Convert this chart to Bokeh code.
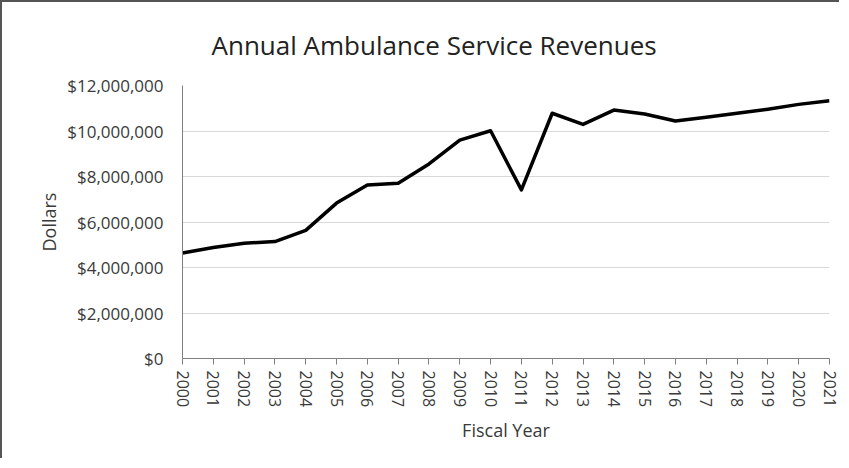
from bokeh.plotting import figure
from bokeh.models import FixedTicker, NumeralTickFormatter, Range1d
from bokeh.embed import file_html
from bokeh.resources import INLINE

years = [2000, 2001, 2002, 2003, 2004, 2005, 2006, 2007, 2008, 2009, 2010,
         2011, 2012, 2013, 2014, 2015, 2016, 2017, 2018, 2019, 2020, 2021]
revenues = [4640000, 4880000, 5070000, 5140000, 5630000, 6830000, 7630000,
            7700000, 8550000, 9600000, 10010000, 7410000, 10780000, 10290000,
            10920000, 10750000, 10440000, 10600000, 10780000, 10960000,
            11170000, 11330000]
y_ticks = [0, 2000000, 4000000, 6000000, 8000000, 10000000, 12000000]

FONT = "Open Sans"
TXT = "#3a3a3a"

p = figure(width=839, height=458, output_backend="svg", toolbar_location=None,
           x_range=Range1d(2000, 2021), y_range=Range1d(0, 12000000),
           min_border_left=180, min_border_right=12, min_border_top=83,
           min_border_bottom=102)

p.title.text = "Annual Ambulance Service Revenues"
p.title.text_font = FONT
p.title.text_font_size = "26px"
p.title.text_font_style = "normal"
p.title.text_color = "#222222"
p.title.text_line_height = 0.8
p.title.align = "left"
p.title.offset = 29
p.title.standoff = 45

p.line(years, revenues, line_color="black", line_width=3.5, line_join="round")

p.outline_line_color = None
p.xgrid.grid_line_color = None
p.ygrid.grid_line_color = "#d9d9d9"
p.ygrid.grid_line_width = 1

p.yaxis.ticker = FixedTicker(ticks=y_ticks)
p.yaxis.formatter = NumeralTickFormatter(format="$0,0")
p.yaxis.major_tick_out = 0
p.yaxis.major_tick_in = 0
p.yaxis.minor_tick_out = 0
p.yaxis.minor_tick_in = 0
p.yaxis.major_label_standoff = 19
p.yaxis.axis_line_color = "#808080"
p.yaxis.axis_label = "Dollars"
p.yaxis.major_label_text_font_size = "17px"
p.yaxis.axis_label_standoff = 3

p.xaxis.ticker = FixedTicker(ticks=years)
p.xaxis.major_label_orientation = "vertical"
p.xaxis.major_tick_out = 6
p.xaxis.major_tick_in = 0
p.xaxis.minor_tick_out = 0
p.xaxis.minor_tick_in = 0
p.xaxis.major_tick_line_color = "#808080"
p.xaxis.axis_line_color = "#808080"
p.xaxis.major_label_standoff = 6
p.xaxis.axis_label = "Fiscal Year"
p.xaxis.major_label_text_font_size = "16px"
p.xaxis.axis_label_standoff = 8

for ax in (p.xaxis, p.yaxis):
    ax.major_label_text_font = FONT
    ax.major_label_text_color = TXT
    ax.axis_label_text_font = FONT
    ax.axis_label_text_font_size = "18px"
    ax.axis_label_text_font_style = "normal"
    ax.axis_label_text_color = TXT

p.styles = {"border-top": "2px solid #555555", "border-left": "2px solid #555555"}

open("out.html", "w").write(file_html(p, INLINE))
